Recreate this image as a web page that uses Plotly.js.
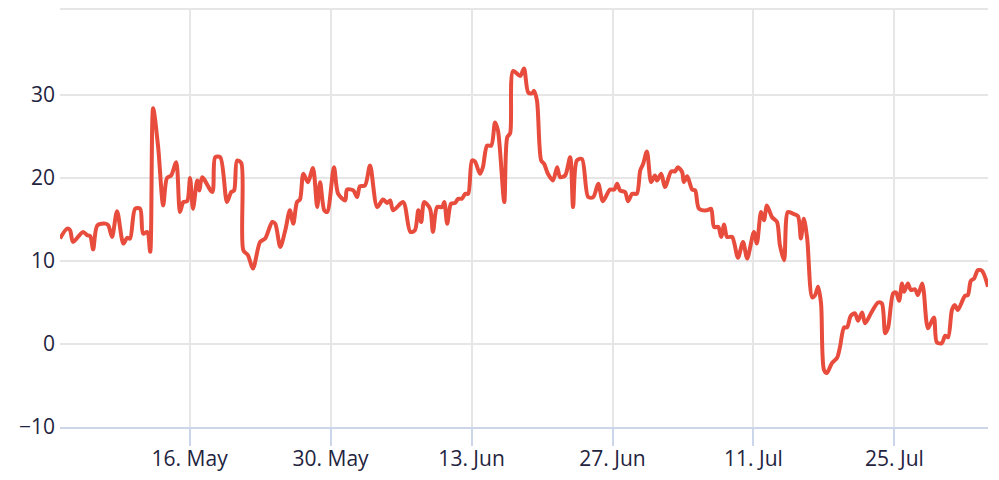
<!DOCTYPE html>
<html>
<head>
<meta charset="utf-8">
<script src="https://cdn.plot.ly/plotly-3.0.1.min.js"></script>
<style>
  html, body { margin: 0; padding: 0; background: #ffffff; }
  #chart { width: 999px; height: 480px; }
</style>
</head>
<body>
<div id="chart"></div>
<script>
const dates = [
"2021-05-03 03:00","2021-05-03 20:00","2021-05-04 03:00","2021-05-04 10:00","2021-05-05 10:00","2021-05-05 20:00",
"2021-05-06 03:00","2021-05-06 10:00","2021-05-06 20:00","2021-05-07 15:00","2021-05-07 22:00","2021-05-08 07:00",
"2021-05-08 19:00","2021-05-09 10:00","2021-05-09 19:00","2021-05-10 02:00","2021-05-10 14:00","2021-05-11 02:00",
"2021-05-11 09:00","2021-05-11 19:00","2021-05-12 02:00","2021-05-12 09:00","2021-05-12 21:00","2021-05-13 09:00",
"2021-05-13 18:00","2021-05-14 04:00","2021-05-14 16:00","2021-05-15 01:00","2021-05-15 09:00","2021-05-15 18:00",
"2021-05-16 01:00","2021-05-16 08:00","2021-05-16 18:00","2021-05-16 23:00","2021-05-17 06:00","2021-05-18 06:00",
"2021-05-18 13:00","2021-05-19 01:00","2021-05-19 17:00","2021-05-20 03:00","2021-05-20 10:00","2021-05-20 17:00",
"2021-05-21 03:00","2021-05-21 08:00","2021-05-21 19:00","2021-05-22 07:00","2021-05-23 00:00","2021-05-23 12:00",
"2021-05-24 05:00","2021-05-24 12:00","2021-05-25 00:00","2021-05-25 12:00","2021-05-25 23:00","2021-05-26 07:00",
"2021-05-26 16:00","2021-05-26 23:00","2021-05-27 07:00","2021-05-27 18:00","2021-05-28 06:00","2021-05-28 16:00",
"2021-05-28 23:00","2021-05-29 09:00","2021-05-29 16:00","2021-05-30 08:00","2021-05-30 18:00","2021-05-31 11:00",
"2021-05-31 15:00","2021-06-01 06:00","2021-06-01 15:00","2021-06-01 22:00","2021-06-02 10:00","2021-06-02 22:00",
"2021-06-03 15:00","2021-06-04 05:00","2021-06-04 15:00","2021-06-04 22:00","2021-06-05 05:00","2021-06-06 05:00",
"2021-06-06 22:00","2021-06-07 09:00","2021-06-07 17:00","2021-06-08 00:00","2021-06-08 07:00","2021-06-08 21:00",
"2021-06-09 04:00","2021-06-09 14:00","2021-06-10 02:00","2021-06-10 07:00","2021-06-10 14:00","2021-06-10 23:00",
"2021-06-11 09:00","2021-06-11 16:00","2021-06-12 01:00","2021-06-12 09:00","2021-06-12 16:00","2021-06-13 01:00",
"2021-06-13 08:00","2021-06-13 20:00","2021-06-14 03:00","2021-06-14 13:00","2021-06-14 23:00","2021-06-15 08:00",
"2021-06-15 15:00","2021-06-16 06:00","2021-06-16 13:00","2021-06-16 20:00","2021-06-17 03:00","2021-06-17 20:00",
"2021-06-18 05:00","2021-06-18 15:00","2021-06-19 00:00","2021-06-19 05:00","2021-06-19 12:00","2021-06-19 22:00",
"2021-06-20 05:00","2021-06-20 14:00","2021-06-21 02:00","2021-06-21 12:00","2021-06-21 19:00","2021-06-22 07:00",
"2021-06-22 19:00","2021-06-23 02:00","2021-06-23 11:00","2021-06-23 23:00","2021-06-24 14:00","2021-06-25 02:00",
"2021-06-25 14:00","2021-06-26 01:00","2021-06-26 18:00","2021-06-27 04:00","2021-06-27 11:00","2021-06-27 18:00",
"2021-06-28 06:00","2021-06-28 13:00","2021-06-28 23:00","2021-06-29 10:00","2021-06-29 18:00","2021-06-30 01:00",
"2021-06-30 10:00","2021-06-30 20:00","2021-07-01 05:00","2021-07-01 10:00","2021-07-01 20:00","2021-07-02 05:00",
"2021-07-02 20:00","2021-07-03 05:00","2021-07-03 12:00","2021-07-03 22:00","2021-07-04 02:00","2021-07-04 10:00",
"2021-07-04 22:00","2021-07-05 05:00","2021-07-05 14:00","2021-07-06 09:00","2021-07-06 19:00","2021-07-07 02:00",
"2021-07-07 12:00","2021-07-07 19:00","2021-07-08 02:00","2021-07-08 09:00","2021-07-08 21:00","2021-07-09 11:00",
"2021-07-09 23:00","2021-07-10 09:00","2021-07-11 01:00","2021-07-11 08:00","2021-07-11 18:00","2021-07-12 01:00",
"2021-07-12 08:00","2021-07-12 20:00","2021-07-13 08:00","2021-07-13 15:00","2021-07-14 01:00","2021-07-14 10:00",
"2021-07-14 22:00","2021-07-15 10:00","2021-07-15 17:00","2021-07-16 00:00","2021-07-16 08:00","2021-07-16 20:00",
"2021-07-17 03:00","2021-07-17 10:00","2021-07-17 17:00","2021-07-18 00:00","2021-07-18 07:00","2021-07-18 19:00",
"2021-07-19 07:00","2021-07-19 14:00","2021-07-20 00:00","2021-07-20 07:00","2021-07-20 16:00","2021-07-21 02:00",
"2021-07-21 09:00","2021-07-21 19:00","2021-07-22 02:00","2021-07-22 17:00","2021-07-23 09:00","2021-07-23 18:00",
"2021-07-24 02:00","2021-07-24 09:00","2021-07-24 21:00","2021-07-25 04:00","2021-07-25 11:00","2021-07-25 18:00",
"2021-07-25 23:00","2021-07-26 08:00","2021-07-26 15:00","2021-07-27 01:00","2021-07-27 08:00","2021-07-27 18:00",
"2021-07-27 22:00","2021-07-28 08:00","2021-07-28 22:00","2021-07-29 05:00","2021-07-29 17:00","2021-07-30 01:00",
"2021-07-30 08:00","2021-07-30 17:00","2021-07-31 00:00","2021-07-31 07:00","2021-08-01 00:00","2021-08-01 07:00",
"2021-08-01 14:00","2021-08-01 22:00","2021-08-02 07:00","2021-08-02 17:00","2021-08-03 07:00"
];
const values = [
12.7,13.9,13.7,12.3,13.5,13.1,
13.0,11.4,14.3,14.5,14.3,12.9,
16.0,12.1,12.8,12.7,16.3,16.3,
13.3,13.5,11.1,28.4,23.7,16.7,
20.0,20.3,21.9,15.9,17.1,17.2,
20.0,16.3,19.7,18.5,20.1,18.3,
22.5,22.5,17.1,18.3,18.5,22.1,
21.8,11.3,10.7,9.1,12.3,12.7,
14.7,14.5,11.7,13.7,16.1,14.5,
17.1,17.4,20.5,19.5,21.2,16.5,
19.5,16.1,15.9,21.3,18.1,17.3,
18.6,18.5,17.7,19.0,19.1,21.5,
16.5,17.4,17.0,17.3,16.1,17.1,
13.5,13.7,16.1,14.7,17.1,16.3,
13.5,16.5,16.5,17.1,14.5,16.9,
17.0,17.5,17.5,18.1,18.1,22.1,
22.0,20.5,21.3,23.9,23.9,26.7,
25.7,17.1,24.9,25.4,32.9,32.3,
33.2,30.3,30.2,30.5,29.3,22.1,
21.7,20.5,19.7,21.3,20.1,20.3,
22.5,16.5,22.1,22.3,17.7,17.7,
19.3,17.2,18.6,18.6,19.3,18.5,
18.3,17.2,18.1,18.1,20.9,21.7,
23.2,19.5,20.3,19.7,20.5,18.9,
20.8,20.8,21.3,20.7,19.5,20.2,
18.6,18.5,16.3,16.1,16.3,14.1,
14.1,12.9,14.4,12.9,12.9,10.4,
12.3,10.3,13.5,12.1,15.9,14.9,
16.7,15.3,14.7,11.9,10.1,15.9,
15.7,15.4,12.7,15.1,12.7,5.6,
5.9,6.9,4.9,-3.1,-3.5,-2.3,
-1.7,-0.4,2.0,2.0,3.4,3.7,
2.8,3.8,2.5,3.8,5.0,4.9,
1.3,2.0,6.1,6.2,5.2,7.3,
6.3,7.3,6.5,6.6,5.9,7.3,
6.3,1.9,3.2,0.2,0.1,1.0,
0.8,4.1,4.7,4.1,5.8,5.9,
7.6,7.9,8.9,8.8,6.9
];
const yTicks = [-10, 0, 10, 20, 30];
const yTickText = ["\u221210", "0", "10", "20", "30"];
const firstTick = "2021-05-16";

const FONT = "'Open Sans', 'Noto Sans', sans-serif";
const trace = {
  x: dates,
  y: values,
  type: "scatter",
  mode: "lines",
  line: { color: "#e74c3c", width: 4, shape: "spline", smoothing: 0.8 },
  hoverinfo: "x+y"
};

const layout = {
  width: 999,
  height: 480,
  margin: { l: 60, r: 11, t: 9, b: 53 },
  paper_bgcolor: "#ffffff",
  plot_bgcolor: "#ffffff",
  showlegend: false,
  font: { family: FONT, size: 21, color: "#1f2440" },
  xaxis: {
    type: "date",
    range: [dates[0], dates[dates.length - 1]],
    tick0: firstTick,
    dtick: 14 * 86400000,
    tickformat: "%d. %b",
    showgrid: true,
    gridcolor: "#e6e6e6",
    gridwidth: 2,
    showline: true,
    linecolor: "#ccd6eb",
    linewidth: 2,
    ticks: "outside",
    ticklen: 17,
    tickwidth: 2,
    tickcolor: "#ccd6eb",
    ticklabelstandoff: -5,
    zeroline: false,
    tickfont: { family: FONT, size: 21, color: "#1f2440" }
  },
  yaxis: {
    range: [-10, 40.36],
    tickvals: yTicks,
    ticktext: yTickText,
    showgrid: true,
    gridcolor: "#e6e6e6",
    gridwidth: 2,
    zeroline: false,
    showline: false,
    ticks: "",
    ticklabelstandoff: 4,
    tickfont: { family: FONT, size: 21, color: "#1f2440" }
  },
  shapes: [{
    type: "line", xref: "paper", yref: "paper",
    x0: 0, x1: 1, y0: 1, y1: 1,
    line: { color: "#e6e6e6", width: 2 },
    layer: "below"
  }]
};

Plotly.newPlot("chart", [trace], layout, { displayModeBar: false, staticPlot: true });
</script>
</body>
</html>
